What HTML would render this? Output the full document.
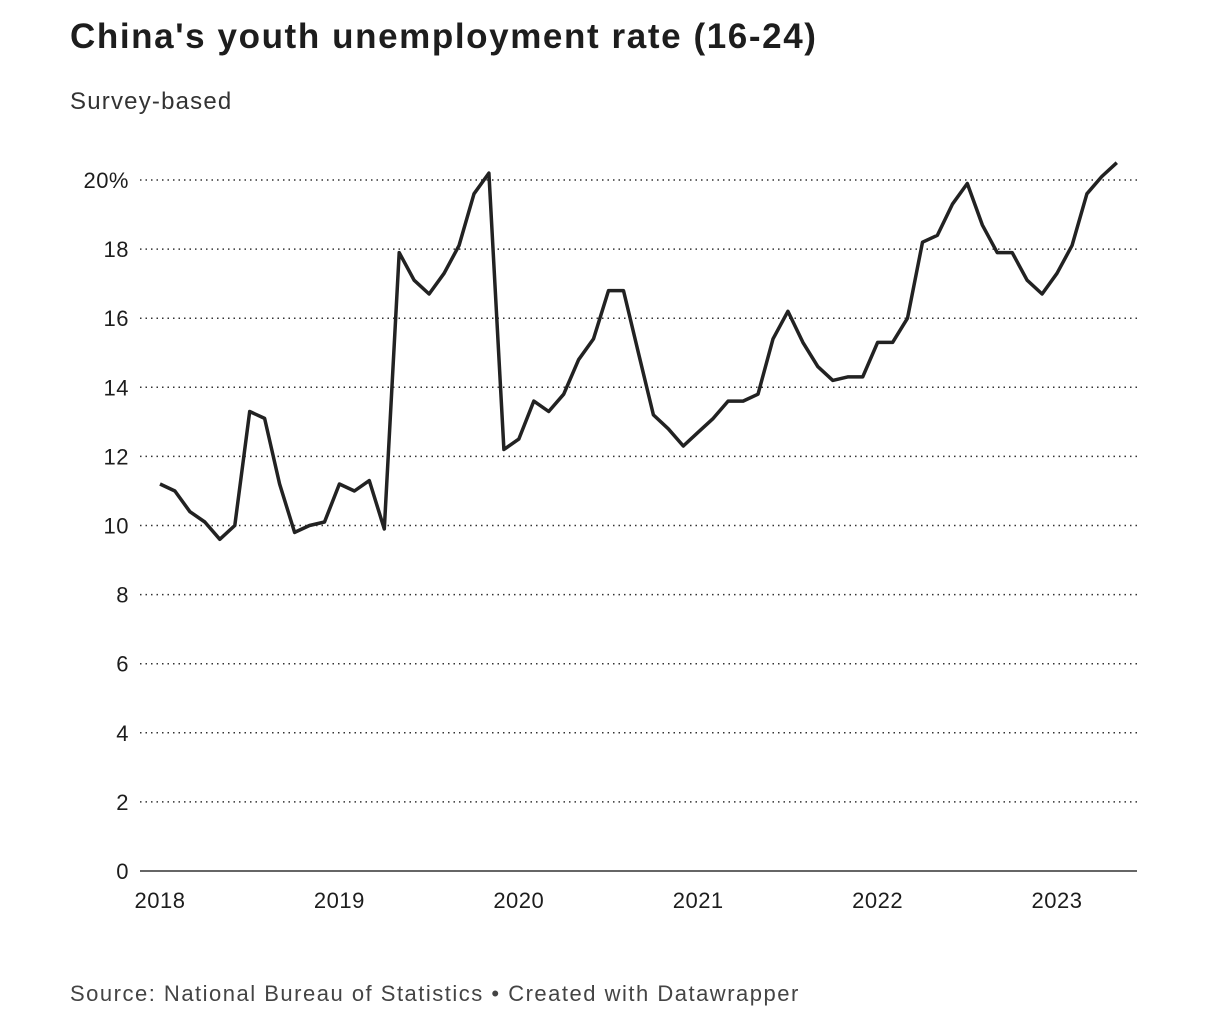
<!DOCTYPE html>
<html><head><meta charset="utf-8">
<style>
body{margin:0;background:#fff;width:1220px;height:1020px;overflow:hidden;font-family:"Liberation Sans",sans-serif;color:#1d1d1d}
.t{position:absolute;left:70px;top:17px;font-size:35px;font-weight:bold;letter-spacing:1.6px}
.s{position:absolute;left:70px;top:88px;font-size:24px;color:#333;letter-spacing:1.2px}
.f{position:absolute;left:70px;top:981px;font-size:22px;color:#444;letter-spacing:1.5px}
svg{position:absolute;left:0;top:0}
</style></head><body>
<div class="t">China's youth unemployment rate (16-24)</div>
<div class="s">Survey-based</div>
<svg id="c" width="1220" height="1020"></svg>
<div class="f">Source: National Bureau of Statistics • Created with Datawrapper</div>
<script>
const yTicks=[0,2,4,6,8,10,12,14,16,18,20];
const yLabels=["0","2","4","6","8","10","12","14","16","18","20%"];
const xYears=[2018,2019,2020,2021,2022,2023];
const startYear=2018;
const rates=[11.2,11.0,10.4,10.1,9.6,10.0,13.3,13.1,11.2,9.8,10.0,10.1,
11.2,11.0,11.3,9.9,17.9,17.1,16.7,17.3,18.1,19.6,20.2,12.2,
12.5,13.6,13.3,13.8,14.8,15.4,16.8,16.8,15.0,13.2,12.8,12.3,
12.7,13.1,13.6,13.6,13.8,15.4,16.2,15.3,14.6,14.2,14.3,14.3,
15.3,15.3,16.0,18.2,18.4,19.3,19.9,18.7,17.9,17.9,17.1,16.7,
17.3,18.1,19.6,20.1,20.5];
const NS="http://www.w3.org/2000/svg",svg=document.getElementById('c');
const y=v=>871-v*34.55;
const x=m=>160+m*(179.4/12);
function mk(t,a){const e=document.createElementNS(NS,t);for(const k in a)e.setAttribute(k,a[k]);svg.appendChild(e);return e;}
yTicks.forEach((v,i)=>{
 if(v>0){const g=mk('line',{x1:140,x2:1137,y1:y(v),y2:y(v),stroke:'#333','stroke-width':1.5,'stroke-dasharray':'1.5 4'});
 
 }
 const t=mk('text',{x:129,y:y(v)+8,'text-anchor':'end','font-size':22,fill:'#1d1d1d','font-family':'Liberation Sans','letter-spacing':'0.5'});
 t.textContent=yLabels[i];
 
 
});
const b=mk('line',{x1:140,x2:1137,y1:y(0),y2:y(0),stroke:'#333','stroke-width':1.5});


xYears.forEach(yr=>{
 const t=mk('text',{x:x((yr-startYear)*12),y:908,'text-anchor':'middle','font-size':22,fill:'#1d1d1d','font-family':'Liberation Sans','letter-spacing':'0.5'});
 t.textContent=yr;
 
 
});
const cp=mk('clipPath',{id:'cl'});const r=document.createElementNS(NS,'rect');
r.setAttribute('x',0);r.setAttribute('y',160);r.setAttribute('width',1220);r.setAttribute('height',800);cp.appendChild(r);
const p=mk('path',{d:rates.map((v,i)=>(i?'L':'M')+x(i).toFixed(1)+','+y(v).toFixed(1)).join(''),fill:'none',stroke:'#222','stroke-width':3.5,'stroke-linejoin':'round','clip-path':'url(#cl)'});


</script>
</body></html>
